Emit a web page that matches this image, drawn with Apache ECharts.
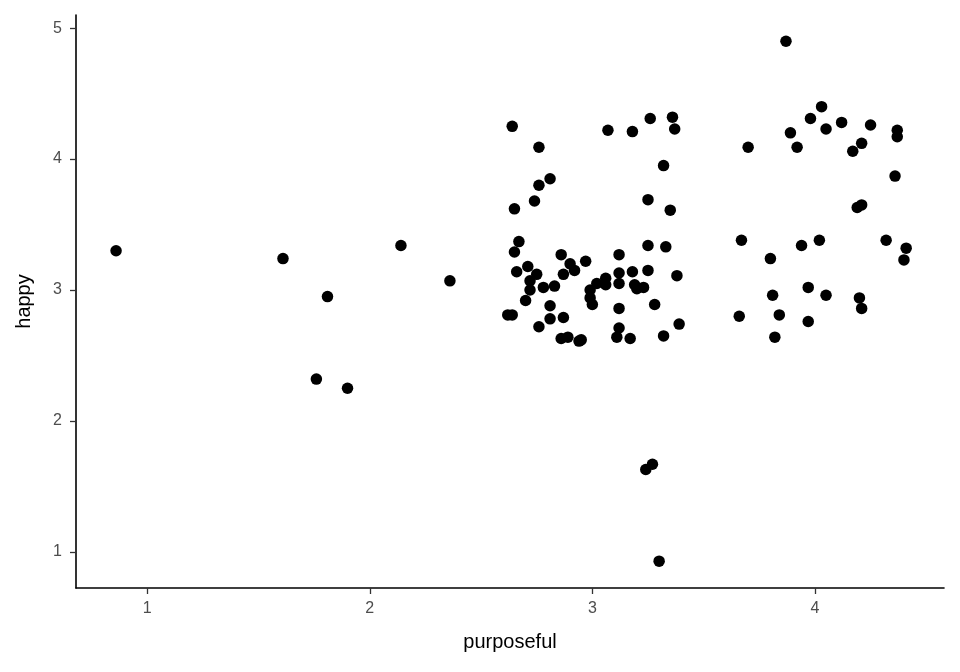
<!DOCTYPE html>
<html>
<head>
<meta charset="utf-8">
<script src="https://cdn.jsdelivr.net/npm/echarts@6/dist/echarts.min.js"></script>
<style>
  html, body { margin: 0; padding: 0; background: #fff; }
  #chart { width: 960px; height: 672px; }
</style>
</head>
<body>
<div id="chart"></div>
<script>
// purposeful (x) and happy (y)
const purposeful = [
  0.86, 1.61, 1.81, 1.76, 1.90, 2.14, 2.36,
  2.64, 2.76, 2.81, 2.76, 2.74, 2.65, 3.07, 3.18, 3.26, 3.36, 3.37, 3.32, 3.25, 3.35,
  2.67, 2.65, 2.86, 2.97, 2.90, 2.92, 2.87, 3.12, 3.25, 3.33,
  2.66, 2.71, 2.75, 2.72, 2.72, 2.78, 2.83, 2.70, 2.81, 2.62, 2.64, 2.81, 2.87, 2.76,
  2.86, 2.89, 2.94, 2.95,
  2.99, 3.00, 2.99, 3.02, 3.06, 3.06, 3.12, 3.12, 3.18, 3.25, 3.19, 3.20, 3.23, 3.38,
  3.12, 3.28, 3.39, 3.12, 3.11, 3.17, 3.32,
  3.24, 3.27, 3.30,
  3.87, 4.03, 3.98, 4.12, 4.05, 4.25, 4.37, 4.37, 3.89, 3.92, 3.70, 4.21, 4.17, 4.36,
  4.21, 4.19, 3.67, 4.02, 3.94, 4.32, 4.41, 4.40, 3.80, 3.97, 3.81, 4.05, 4.20, 4.21,
  3.66, 3.84, 3.97, 3.82
];
const happy = [
  3.30, 3.24, 2.95, 2.32, 2.25, 3.34, 3.07,
  4.25, 4.09, 3.85, 3.80, 3.68, 3.62, 4.22, 4.21, 4.31, 4.32, 4.23, 3.95, 3.69, 3.61,
  3.37, 3.29, 3.27, 3.22, 3.20, 3.15, 3.12, 3.27, 3.34, 3.33,
  3.14, 3.18, 3.12, 3.07, 3.00, 3.02, 3.03, 2.92, 2.88, 2.81, 2.81, 2.78, 2.79, 2.72,
  2.63, 2.64, 2.61, 2.62,
  2.94, 2.89, 3.00, 3.05, 3.09, 3.04, 3.13, 3.05, 3.14, 3.15, 3.04, 3.01, 3.02, 3.11,
  2.86, 2.89, 2.74, 2.71, 2.64, 2.63, 2.65,
  1.63, 1.67, 0.93,
  4.90, 4.40, 4.31, 4.28, 4.23, 4.26, 4.22, 4.17, 4.20, 4.09, 4.09, 4.12, 4.06, 3.87,
  3.65, 3.63, 3.38, 3.38, 3.34, 3.38, 3.32, 3.23, 3.24, 3.02, 2.96, 2.96, 2.94, 2.86,
  2.80, 2.81, 2.76, 2.64
];
const xTicks = [1, 2, 3, 4];
const yTicks = [1, 2, 3, 4, 5];

const points = purposeful.map((x, i) => [x, happy[i]]);

const chart = echarts.init(document.getElementById('chart'), null, { renderer: 'canvas' });

const tickLabel = {
  color: '#4d4d4d',
  fontSize: 16,
  fontFamily: 'Liberation Sans, Arial, sans-serif'
};
const axisTitle = {
  color: '#000',
  fontSize: 20,
  fontFamily: 'Liberation Sans, Arial, sans-serif'
};

chart.setOption({
  animation: false,
  backgroundColor: '#fff',
  grid: { left: 76, right: 16, top: 15, bottom: 84, containLabel: false },
  xAxis: {
    type: 'value',
    min: 0.68,
    max: 4.58,
    name: 'purposeful',
    nameLocation: 'middle',
    nameGap: 44,
    nameTextStyle: axisTitle,
    axisLine: { show: true, onZero: false, lineStyle: { color: '#000', width: 1.6 } },
    axisTick: { show: true, length: 6, customValues: xTicks, lineStyle: { color: '#333', width: 1.3 } },
    axisLabel: Object.assign({ margin: 13, customValues: xTicks }, tickLabel),
    splitLine: { show: false }
  },
  yAxis: {
    type: 'value',
    min: 0.725,
    max: 5.1,
    name: 'happy',
    nameLocation: 'middle',
    nameGap: 42,
    nameRotate: 90,
    nameTextStyle: axisTitle,
    axisLine: { show: true, onZero: false, lineStyle: { color: '#000', width: 1.6 } },
    axisTick: { show: true, length: 6, customValues: yTicks, lineStyle: { color: '#333', width: 1.3 } },
    axisLabel: Object.assign({ margin: 14, customValues: yTicks }, tickLabel),
    splitLine: { show: false }
  },
  series: [{
    type: 'scatter',
    data: points,
    symbol: 'circle',
    symbolSize: 11.5,
    itemStyle: { color: '#000', opacity: 1 }
  }]
});
</script>
</body>
</html>
